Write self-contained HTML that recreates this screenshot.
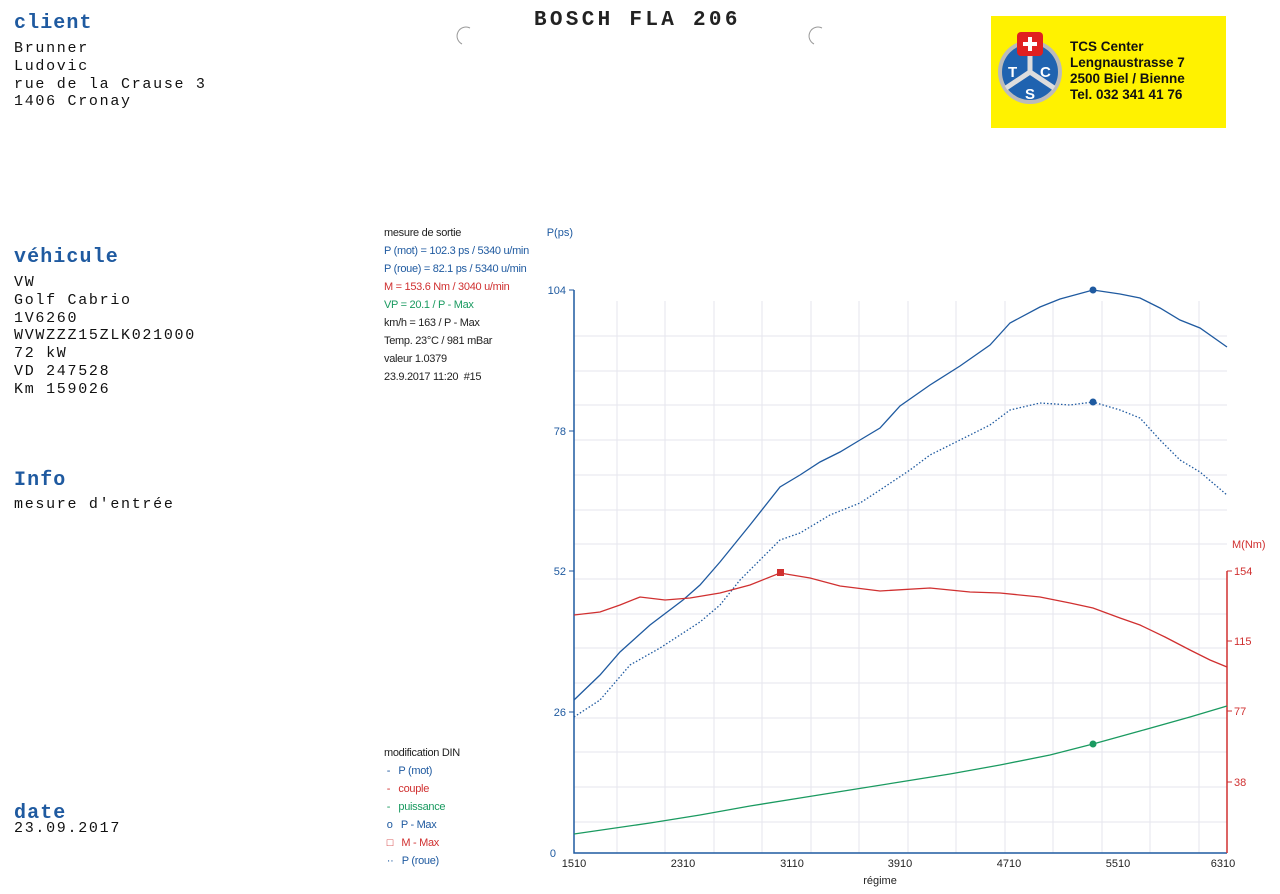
<!DOCTYPE html>
<html><head><meta charset="utf-8"><style>
body{margin:0;width:1280px;height:894px;background:#fff;position:relative;overflow:hidden;font-family:"Liberation Mono",monospace;}
.m{position:absolute;font-family:"Liberation Mono",monospace;font-size:15px;color:#111;line-height:17.8px;white-space:pre;letter-spacing:1.7px}
.h{position:absolute;font-family:"Liberation Mono",monospace;font-size:20px;color:#1f5aa0;font-weight:bold;letter-spacing:1.1px}
.s{position:absolute;font-family:"Liberation Sans",sans-serif;font-size:11px;line-height:18px;white-space:pre;letter-spacing:-0.3px}
</style></head><body>
<div class="h" style="left:14px;top:12px">client</div>
<div class="m" style="left:14px;top:40px">Brunner
Ludovic
rue de la Crause 3
1406 Cronay</div>
<div class="m" style="left:534px;top:12px;font-size:21px;font-weight:bold;color:#222;letter-spacing:3.3px">BOSCH FLA 206</div>
<div class="h" style="left:14px;top:246px">véhicule</div>
<div class="m" style="left:14px;top:274px">VW
Golf Cabrio
1V6260
WVWZZZ15ZLK021000
72 kW
VD 247528
Km 159026</div>
<div class="h" style="left:14px;top:469px">Info</div>
<div class="m" style="left:14px;top:496px">mesure d'entrée</div>
<div class="h" style="left:14px;top:802px">date</div>
<div class="m" style="left:14px;top:820px">23.09.2017</div>
<div style="position:absolute;left:991px;top:16px;width:235px;height:112px;background:#fff200"></div>
<svg style="position:absolute;left:995px;top:30px" width="75" height="78"><circle cx="35" cy="42" r="32" fill="#bbb"/><circle cx="35" cy="42" r="28" fill="#1f63b0"/><path d="M35 42 L35 14 M35 42 L11 58 M35 42 L59 58" stroke="#ddd" stroke-width="5"/><rect x="22" y="2" width="26" height="24" rx="4" fill="#e02020"/><path d="M35 7v14M28 14h14" stroke="#fff" stroke-width="4"/><text x="13" y="47" fill="#fff" font-family="Liberation Sans" font-weight="bold" font-size="15">T</text><text x="45" y="47" fill="#fff" font-family="Liberation Sans" font-weight="bold" font-size="15">C</text><text x="30" y="69" fill="#fff" font-family="Liberation Sans" font-weight="bold" font-size="15">S</text></svg>
<div style="position:absolute;left:1070px;top:39px;font-family:'Liberation Sans',sans-serif;font-weight:bold;font-size:13.5px;line-height:16px;color:#111">TCS Center<br>Lengnaustrasse 7<br>2500 Biel / Bienne<br>Tel. 032 341 41 76</div>
<div class="s" style="left:384px;top:224px;color:#222">mesure de sortie
<span style="color:#1f5aa0">P (mot) = 102.3 ps / 5340 u/min</span>
<span style="color:#1f5aa0">P (roue) = 82.1 ps / 5340 u/min</span>
<span style="color:#d03030">M = 153.6 Nm / 3040 u/min</span>
<span style="color:#1a9a60">VP = 20.1 / P - Max</span>
km/h = 163 / P - Max
Temp. 23°C / 981 mBar
valeur 1.0379
23.9.2017 11:20  #15</div>
<div class="s" style="left:384px;top:744px;color:#222">modification DIN
 <span style="color:#1f5aa0">-   P (mot)</span>
 <span style="color:#d03030">-   couple</span>
 <span style="color:#1a9a60">-   puissance</span>
 <span style="color:#1f5aa0">o   P - Max</span>
 <span style="color:#d03030">□   M - Max</span>
 <span style="color:#1f5aa0">··   P (roue)</span></div>
<svg style="position:absolute;left:0;top:0" width="1280" height="894" font-family="Liberation Sans" font-size="11">
<g stroke="#e6e6ee" stroke-width="1">
<path d="M617 301V853M665 301V853M714 301V853M762 301V853M811 301V853M859 301V853M908 301V853M956 301V853M1005 301V853M1053 301V853M1102 301V853M1150 301V853M1199 301V853"/>
<path d="M574 336H1227M574 371H1227M574 405H1227M574 440H1227M574 475H1227M574 510H1227M574 544H1227M574 579H1227M574 614H1227M574 648H1227M574 683H1227M574 718H1227M574 752H1227M574 787H1227M574 822H1227"/>
</g>
<path d="M574 290V853H1227" stroke="#1f5aa0" stroke-width="1.5" fill="none"/>
<path d="M1227 571V853" stroke="#d03030" stroke-width="1.5"/>
<g stroke="#1f5aa0"><path d="M569 290h5M569 431h5M569 571h5M569 712h5"/></g>
<g stroke="#d03030"><path d="M1227 571h5M1227 641h5M1227 711h5M1227 782h5"/></g>
<g fill="#1f5aa0" text-anchor="end"><text x="566" y="294">104</text><text x="566" y="435">78</text><text x="566" y="575">52</text><text x="566" y="716">26</text><text x="556" y="857">0</text><text x="573" y="236">P(ps)</text></g>
<g fill="#d03030"><text x="1234" y="575">154</text><text x="1234" y="645">115</text><text x="1234" y="715">77</text><text x="1234" y="786">38</text><text x="1232" y="548">M(Nm)</text></g>
<g fill="#222" text-anchor="middle"><text x="574" y="867">1510</text><text x="683" y="867">2310</text><text x="792" y="867">3110</text><text x="900" y="867">3910</text><text x="1009" y="867">4710</text><text x="1118" y="867">5510</text><text x="1223" y="867">6310</text><text x="880" y="884">régime</text></g>
<polyline fill="none" stroke="#1f5aa0" stroke-width="1.3" points="574,700 600,675 620,652 650,625 683,600 700,585 720,562 750,525 780,487 800,475 820,462 840,452 860,440 880,428 900,406 930,385 960,366 990,345 1010,323 1040,307 1060,299 1093,290 1120,294 1140,298 1160,308 1180,320 1200,328 1227,347"/>
<polyline fill="none" stroke="#1f5aa0" stroke-width="1.3" stroke-dasharray="1.5,2" points="574,717 600,700 630,665 660,648 700,622 720,605 740,580 760,560 780,540 800,533 830,515 860,503 880,490 910,470 930,455 960,440 990,425 1010,410 1040,403 1070,405 1093,402 1120,410 1140,418 1160,440 1180,460 1200,472 1227,495"/>
<polyline fill="none" stroke="#d03030" stroke-width="1.3" points="574,615 600,612 620,605 640,597 665,600 690,598 720,593 750,585 780,573 810,578 840,586 880,591 930,588 970,592 1000,593 1040,597 1070,603 1093,608 1120,618 1140,625 1165,637 1190,650 1210,660 1227,667"/>
<polyline fill="none" stroke="#1a9a60" stroke-width="1.3" points="574,834 650,823 700,815 750,806 800,798 850,790 900,782 950,774 1000,765 1050,755 1093,744 1140,731 1190,717 1227,706"/>
<circle cx="1093" cy="290" r="3.5" fill="#1f5aa0"/><circle cx="1093" cy="402" r="3.5" fill="#1f5aa0"/><circle cx="1093" cy="744" r="3.5" fill="#1a9a60"/>
<rect x="777" y="569" width="7" height="7" fill="#d03030"/>
<path d="M470 28a8 8 0 0 0-8 16M822 28a8 8 0 0 0-8 16" stroke="#999" fill="none"/>
</svg>
</body></html>
